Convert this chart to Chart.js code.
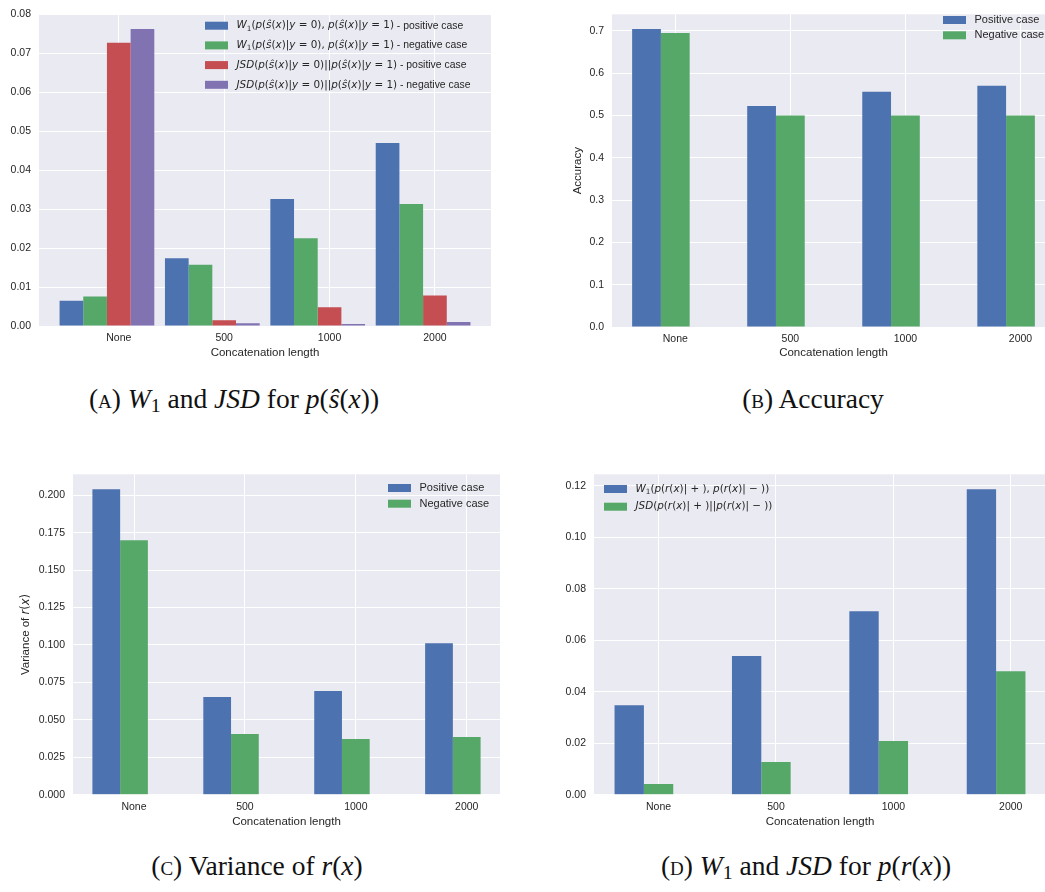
<!DOCTYPE html>
<html>
<head>
<meta charset="utf-8">
<script src="https://cdn.jsdelivr.net/npm/chart.js@4.4.1/dist/chart.umd.min.js"></script>
<style>
  html, body { margin: 0; padding: 0; background: #fff; width: 1045px; height: 892px; overflow: hidden; }
  canvas { position: absolute; }
  .cap { position: absolute; width: 440px; text-align: center; font-family: "Liberation Serif", serif;
         font-size: 27.5px; line-height: 27px; color: #111; white-space: nowrap; }
  .sc { font-variant: small-caps; }
  .cap sub { font-size: 0.72em; vertical-align: -0.22em; line-height: 0; }
</style>
</head>
<body>
<canvas id="chartA" width="500" height="380" style="left:0;top:0"></canvas>
<canvas id="chartB" width="500" height="380" style="left:560px;top:0"></canvas>
<canvas id="chartC" width="520" height="380" style="left:0;top:460px"></canvas>
<canvas id="chartD" width="530" height="380" style="left:530px;top:460px"></canvas>

<div class="cap" style="left:14px;top:385px"><span class="sc">(a)</span> <i>W</i><sub>1</sub> and <i>JSD</i> for <i>p</i>(<i>ŝ</i>(<i>x</i>))</div>
<div class="cap" style="left:593px;top:385px"><span class="sc">(b)</span> Accuracy</div>
<div class="cap" style="left:37px;top:852px"><span class="sc">(c)</span> Variance of <i>r</i>(<i>x</i>)</div>
<div class="cap" style="left:586px;top:852px"><span class="sc">(d)</span> <i>W</i><sub>1</sub> and <i>JSD</i> for <i>p</i>(<i>r</i>(<i>x</i>))</div>

<script>
const categories = ['None', '500', '1000', '2000'];

// (A) W1 and JSD for p(s(x))
const w1Pos = [0.0065, 0.0174, 0.0326, 0.0470];
const w1Neg = [0.0076, 0.0157, 0.0225, 0.0313];
const jsdPos = [0.0727, 0.0015, 0.0048, 0.0078];
const jsdNeg = [0.0762, 0.0007, 0.0005, 0.0010];

// (B) accuracy
const accPos = [0.704, 0.522, 0.556, 0.570];
const accNeg = [0.695, 0.500, 0.500, 0.500];

// (C) variance of r(x)
const varPos = [0.204, 0.0652, 0.0692, 0.1012];
const varNeg = [0.170, 0.0405, 0.0372, 0.0385];

// (D) W1 and JSD for p(r(x))
const w1R = [0.0348, 0.0539, 0.0713, 0.1187];
const jsdR = [0.0042, 0.0127, 0.0209, 0.0480];

const ticksA = [0, 0.01, 0.02, 0.03, 0.04, 0.05, 0.06, 0.07, 0.08];
const ticksB = [0, 0.1, 0.2, 0.3, 0.4, 0.5, 0.6, 0.7];
const ticksC = [0, 0.025, 0.05, 0.075, 0.1, 0.125, 0.15, 0.175, 0.2];
const ticksD = [0, 0.02, 0.04, 0.06, 0.08, 0.1, 0.12];

const BLUE = '#4C72B0', GREEN = '#55A868', RED = '#C44E52', PURPLE = '#8172B2';
const TXT = '#262626';

Chart.defaults.font.family = '"Liberation Sans", Arial, sans-serif';
Chart.defaults.color = TXT;

// text with matplotlib-style math: letters italic, '_x' subscript
function richRun(ctx, parts, size, x, y, draw) {
  for (const [txt, kind] of parts) {
    if (kind === 'r') {
      ctx.font = size + 'px "Liberation Sans"';
      if (draw) ctx.fillText(txt, x, y);
      x += ctx.measureText(txt).width;
      continue;
    }
    for (let i = 0; i < txt.length; i++) {
      let ch = txt[i], sub = false;
      if (ch === '_') { sub = true; ch = txt[++i]; }
      const it = /[A-Za-zŝ]/.test(ch);
      const fs = sub ? size * 0.7 : size;
      ctx.font = (it ? 'italic ' : '') + fs + 'px "DejaVu Sans"';
      if (draw) ctx.fillText(ch, x, y + (sub ? size * 0.28 : 0));
      x += ctx.measureText(ch).width;
    }
  }
  return x;
}

const panelBg = {
  id: 'panelBg',
  beforeDraw(chart) {
    const { ctx, chartArea: a } = chart;
    ctx.save();
    ctx.fillStyle = '#EAEAF2';
    ctx.fillRect(a.left, a.top, a.right - a.left, a.bottom - a.top);
    ctx.restore();
  }
};

const boxLegend = {
  id: 'boxLegend',
  afterDraw(chart, args, opts) {
    if (!opts.items) return;
    const ctx = chart.ctx;
    ctx.save();
    ctx.textBaseline = 'middle';
    opts.items.forEach((it, i) => {
      const y = opts.y + i * opts.gap;
      ctx.fillStyle = it.color;
      ctx.fillRect(opts.x, y - 4, 23, 8);
      ctx.fillStyle = TXT;
      richRun(ctx, it.parts, opts.size, opts.x + 31.5, y, true);
    });
    ctx.restore();
  }
};

const richYTitle = {
  id: 'richYTitle',
  afterDraw(chart, args, opts) {
    if (!opts.parts) return;
    const ctx = chart.ctx, a = chart.chartArea;
    ctx.save();
    ctx.fillStyle = TXT;
    ctx.textBaseline = 'middle';
    const w = richRun(ctx, opts.parts, opts.size, 0, 0, false);
    ctx.translate(opts.x, (a.top + a.bottom) / 2);
    ctx.rotate(-Math.PI / 2);
    richRun(ctx, opts.parts, opts.size, -w / 2, 0, true);
    ctx.restore();
  }
};

function makeChart(id, p) {
  const datasets = p.series.map(s => ({
    data: s.values.map((v, i) => ({ x: i, y: v })),
    backgroundColor: s.color,
    borderWidth: 0
  }));
  // empty slot so the tick sits where matplotlib puts it
  datasets.push({ data: categories.map((c, i) => ({ x: i, y: null })), backgroundColor: 'rgba(0,0,0,0)' });

  return new Chart(document.getElementById(id), {
    type: 'bar',
    data: { datasets },
    options: {
      responsive: false,
      animation: false,
      layout: { padding: p.padding },
      datasets: { bar: { barPercentage: 1, categoryPercentage: p.catPct } },
      plugins: {
        legend: { display: false },
        tooltip: { enabled: false },
        boxLegend: p.legend,
        richYTitle: p.yRich || {}
      },
      scales: {
        x: {
          type: 'linear',
          offset: false,
          min: p.xMin,
          max: p.xMax,
          afterBuildTicks: ax => { ax.ticks = categories.map((c, i) => ({ value: i })); },
          afterFit: ax => { ax.height = p.xAxisH; },
          grid: { color: '#ffffff', lineWidth: 1, drawTicks: false, offset: false },
          border: { display: false },
          ticks: { padding: 6, font: { size: 10.5 }, color: TXT, maxRotation: 0, callback: v => categories[v] },
          title: { display: true, text: 'Concatenation length', font: { size: 11.5 }, color: TXT,
                   padding: { top: 0, bottom: p.xTitlePad } }
        },
        y: {
          min: 0,
          max: p.yMax,
          afterBuildTicks: ax => { ax.ticks = p.yTicks.map(v => ({ value: v })); },
          afterFit: ax => { ax.width = p.yAxisW; },
          grid: { color: '#ffffff', lineWidth: 1, drawTicks: false },
          border: { display: false },
          ticks: { padding: 8, font: { size: 10.5 }, color: TXT, callback: v => v.toFixed(p.dec) },
          title: p.yTitle ? { display: true, text: p.yTitle, font: { size: 11.5 }, color: TXT,
                              padding: { top: p.yTitlePad, bottom: 0 } } : { display: false }
        }
      }
    },
    plugins: [panelBg, boxLegend, richYTitle]
  });
}

makeChart('chartA', {
  series: [
    { values: w1Pos, color: BLUE },
    { values: w1Neg, color: GREEN },
    { values: jsdPos, color: RED },
    { values: jsdNeg, color: PURPLE }
  ],
  catPct: 1.1235, xMin: -0.757, xMax: 3.532,
  yMax: 0.08, yTicks: ticksA, dec: 2,
  padding: { top: 8, right: 9, left: 0, bottom: 0 },
  yAxisW: 39, xAxisH: 54, xTitlePad: 20,
  legend: {
    x: 205, y: 25.7, gap: 19.7, size: 10.4,
    items: [
      { color: BLUE, parts: [['W_1(p(ŝ(x)|y = 0), p(ŝ(x)|y = 1)', 'm'], [' - positive case', 'r']] },
      { color: GREEN, parts: [['W_1(p(ŝ(x)|y = 0), p(ŝ(x)|y = 1)', 'm'], [' - negative case', 'r']] },
      { color: RED, parts: [['JSD(p(ŝ(x)|y = 0)||p(ŝ(x)|y = 1)', 'm'], [' - positive case', 'r']] },
      { color: PURPLE, parts: [['JSD(p(ŝ(x)|y = 0)||p(ŝ(x)|y = 1)', 'm'], [' - negative case', 'r']] }
    ]
  }
});

makeChart('chartB', {
  series: [
    { values: accPos, color: BLUE },
    { values: accNeg, color: GREEN }
  ],
  catPct: 0.75, xMin: -0.55, xMax: 3.3,
  yMax: 0.739, yTicks: ticksB, dec: 1,
  padding: { top: 6, right: 5, left: 0, bottom: 0 },
  yAxisW: 52, xAxisH: 53, xTitlePad: 20,
  yTitle: 'Accuracy', yTitlePad: 11,
  legend: {
    x: 383, y: 20, gap: 15.3, size: 11,
    items: [
      { color: BLUE, parts: [['Positive case', 'r']] },
      { color: GREEN, parts: [['Negative case', 'r']] }
    ]
  }
});

makeChart('chartC', {
  series: [
    { values: varPos, color: BLUE },
    { values: varNeg, color: GREEN }
  ],
  catPct: 0.75, xMin: -0.55, xMax: 3.3,
  yMax: 0.214, yTicks: ticksC, dec: 3,
  padding: { top: 14, right: 20, left: 0, bottom: 0 },
  yAxisW: 73, xAxisH: 45.3, xTitlePad: 11,
  yRich: { x: 26, size: 11.5, parts: [['Variance of ', 'r'], ['r(x)', 'm']] },
  legend: {
    x: 388, y: 28, gap: 15.7, size: 11,
    items: [
      { color: BLUE, parts: [['Positive case', 'r']] },
      { color: GREEN, parts: [['Negative case', 'r']] }
    ]
  }
});

makeChart('chartD', {
  series: [
    { values: w1R, color: BLUE },
    { values: jsdR, color: GREEN }
  ],
  catPct: 0.75, xMin: -0.55, xMax: 3.3,
  yMax: 0.1245, yTicks: ticksD, dec: 2,
  padding: { top: 14, right: 14, left: 0, bottom: 0 },
  yAxisW: 64, xAxisH: 45.3, xTitlePad: 11,
  legend: {
    x: 74, y: 29, gap: 17.7, size: 10.4,
    items: [
      { color: BLUE, parts: [['W_1(p(r(x)| + ), p(r(x)| − ))', 'm']] },
      { color: GREEN, parts: [['JSD(p(r(x)| + )||p(r(x)| − ))', 'm']] }
    ]
  }
});
</script>
</body>
</html>
